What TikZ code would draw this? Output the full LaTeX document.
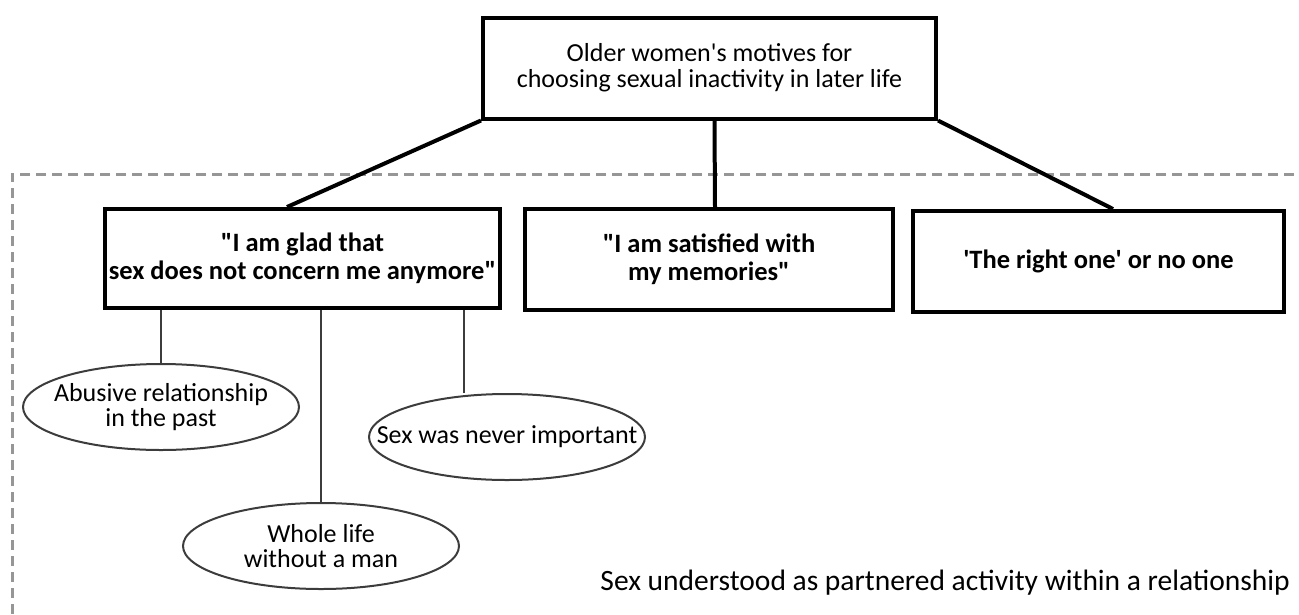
\documentclass[tikz,border=0pt]{standalone}
\usepackage{fontspec}
\setmainfont{Carlito}[Ligatures=TeXOff]
\usetikzlibrary{shapes.geometric}
\definecolor{framegray}{RGB}{150,150,150}
\definecolor{leafgray}{RGB}{60,60,60}
\begin{document}
\begin{tikzpicture}[x=1pt,y=-1pt,
  rootbox/.style={draw, line width=4pt, rectangle, align=center, inner sep=0pt,
    font=\fontsize{26}{26}\selectfont},
  motivebox/.style={draw, line width=4pt, rectangle, align=center, inner sep=0pt,
    font=\fontsize{26.5}{28}\selectfont\bfseries},
  reasonoval/.style={draw=leafgray, line width=2pt, ellipse, inner sep=0pt,
    minimum width=276pt, minimum height=86pt},
  reasontext/.style={align=center, inner sep=0pt, font=\fontsize{26}{25}\selectfont},
  thickline/.style={line width=4pt},
  thinline/.style={draw=leafgray, line width=2pt},
  frameline/.style={draw=framegray, line width=3pt, dash pattern=on 10pt off 6pt}
]
\useasboundingbox (0,0) rectangle (1299,614);

% dashed frame around the group of motives
\coordinate (fbl) at (12,614);
\coordinate (ftl) at (12,174);
\coordinate (ftr) at (1299,174);
\draw[frameline] (fbl) -- (ftl) -- (ftr);

% root
\node[rootbox, minimum width=453pt, minimum height=101pt] (root) at (709.5,68)
  {Older women's motives for\\choosing sexual inactivity in later life};

% motives
\node[motivebox, minimum width=395pt, minimum height=99pt] (m1) at (302.5,258.5)
  {"I am glad that\\sex does not concern me anymore"};
\node[motivebox, minimum width=368pt, minimum height=101pt] (m2) at (709,259.5)
  {"I am satisfied with\\my memories"};
\node[motivebox, minimum width=371pt, minimum height=101pt] (m3) at (1098.5,261.5)
  {'The right one' or no one};

\draw[thickline] (root.south west) -- ([xshift=-15.5pt]m1.north);
\draw[thickline] ([xshift=5pt]root.south) -- ([xshift=6pt]m2.north);
\draw[thickline] (root.south east) -- ([xshift=14.5pt]m3.north);

% reasons under the first motive
\node[reasonoval, label={[reasontext]center:Abusive relationship\\in the past}] (r1) at (161,407) {};
\node[reasonoval, label={[reasontext]center:Sex was never important}] (r2) at (507,437) {};
\node[reasonoval, label={[reasontext]center:Whole life\\without a man}] (r3) at (321,546) {};

\draw[thinline] (r1.north) -- (r1.north |- m1.south);
\draw[thinline] ([xshift=-43pt]r2.north) -- ([xshift=-43pt]r2.north |- m1.south);
\draw[thinline] (r3.north) -- (r3.north |- m1.south);

% note on the frame
\node[anchor=east, inner sep=0pt, font=\fontsize{29.5}{30}\selectfont] (note) at (1290,583)
  {Sex understood as partnered activity within a relationship};
\end{tikzpicture}
\end{document}
